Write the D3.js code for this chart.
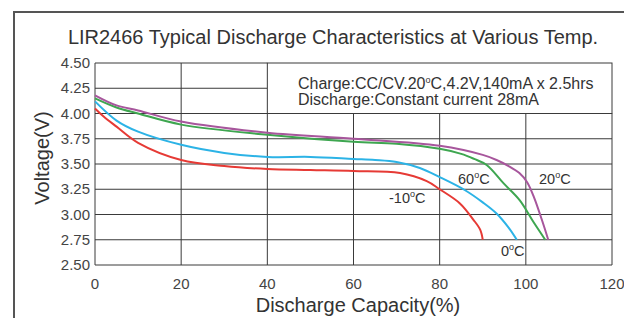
<!DOCTYPE html>
<html><head><meta charset="utf-8">
<script src="https://cdn.jsdelivr.net/npm/d3@7/dist/d3.min.js"></script>
<style>body{margin:0;background:#fff}svg{display:block;font-family:"Liberation Sans",Arial,sans-serif}</style>
</head><body><svg id="c" width="624" height="318"></svg>
<script>
const xTicks = [0, 20, 40, 60, 80, 100, 120];
const yTicks = [2.50, 2.75, 3.00, 3.25, 3.50, 3.75, 4.00, 4.25, 4.50];
const seriesNames = ["-10", "0", "60", "20"];
const redX = [0, 2, 5, 10, 20, 30, 40, 50, 60, 70.8, 77, 80, 84.7, 87.8, 89.4, 90];
const redY = [4.05, 3.97, 3.87, 3.71, 3.54, 3.48, 3.45, 3.44, 3.43, 3.41, 3.33, 3.25, 3.11, 2.95, 2.85, 2.75];
const blueX = [0, 5, 10, 20, 30, 40, 50, 60, 65, 70, 75.4, 80, 85.9, 90, 93.2, 96, 97.9];
const blueY = [4.12, 3.93, 3.82, 3.69, 3.61, 3.57, 3.57, 3.55, 3.54, 3.52, 3.46, 3.37, 3.24, 3.12, 3.01, 2.87, 2.75];
const greenX = [0, 5, 10, 20, 40, 60, 70, 80, 85, 88, 90.9, 94.8, 98.6, 101.7, 104.5];
const greenY = [4.15, 4.06, 4.00, 3.89, 3.79, 3.72, 3.70, 3.65, 3.60, 3.55, 3.49, 3.31, 3.14, 2.93, 2.75];
const purpleX = [0, 5, 10, 20, 40, 60, 80, 90, 93.2, 96, 98.5, 100.3, 101.9, 103.7, 105.2];
const purpleY = [4.18, 4.08, 4.03, 3.92, 3.81, 3.75, 3.68, 3.59, 3.54, 3.48, 3.41, 3.32, 3.17, 2.95, 2.75];
const colors = ["#e63a35", "#2cb3e6", "#3ea650", "#a7569c"];

const svg = d3.select("#c");
const X0 = 95, X1 = 612, Y0 = 265, Y1 = 63;
const x = d3.scaleLinear().domain([0, 120]).range([X0, X1]);
const y = d3.scaleLinear().domain([2.5, 4.5]).range([Y0, Y1]);

svg.append("rect").attr("x", 14).attr("y", 12).attr("width", 700).attr("height", 400)
  .attr("fill", "none").attr("stroke", "#555").attr("stroke-width", 2);

svg.append("text").attr("x", 333).attr("y", 44).attr("text-anchor", "middle")
  .attr("font-size", 20).attr("fill", "#333").text("LIR2466 Typical Discharge Characteristics at Various Temp.");

const gridC = "#3a3a3a";
yTicks.forEach(v => {
  const xe = (v > 4.0) ? x(40) : X1;
  svg.append("line").attr("x1", X0).attr("x2", xe).attr("y1", y(v)).attr("y2", y(v))
    .attr("stroke", gridC).attr("stroke-width", 1);
});
xTicks.forEach(v => {
  const ys = (v >= 40) ? y(4.0) : Y1;
  svg.append("line").attr("x1", x(v)).attr("x2", x(v)).attr("y1", Y0).attr("y2", ys)
    .attr("stroke", gridC).attr("stroke-width", 1);
});
svg.append("rect").attr("x", x(40)).attr("y", y(4.5)).attr("width", x(120) - x(40)).attr("height", y(4.0) - y(4.5))
  .attr("fill", "#fff").attr("stroke", gridC).attr("stroke-width", 1);
const ann = svg.append("text").attr("x", 298).attr("y", 89).attr("font-size", 16).attr("fill", "#333");
ann.append("tspan").text("Charge:CC/CV.20");
ann.append("tspan").attr("font-size", 9).attr("dy", -6).text("o");
ann.append("tspan").attr("dy", 6).text("C,4.2V,140mA x 2.5hrs");
svg.append("text").attr("x", 298).attr("y", 105).attr("font-size", 16).attr("fill", "#333")
  .text("Discharge:Constant current 28mA");

yTicks.forEach(v => {
  svg.append("text").attr("x", 90).attr("y", y(v) + 5).attr("text-anchor", "end")
    .attr("font-size", 15).attr("fill", "#444").text(v.toFixed(2));
});
xTicks.forEach(v => {
  svg.append("text").attr("x", x(v)).attr("y", 289).attr("text-anchor", "middle")
    .attr("font-size", 15).attr("fill", "#444").text(v);
});
svg.append("text").attr("x", 358).attr("y", 312).attr("text-anchor", "middle")
  .attr("font-size", 20).attr("fill", "#333").text("Discharge Capacity(%)");
svg.append("text").attr("transform", "translate(49,158) rotate(-90)").attr("text-anchor", "middle")
  .attr("font-size", 20).attr("fill", "#333").text("Voltage(V)");

const series = [[redX, redY], [blueX, blueY], [greenX, greenY], [purpleX, purpleY]];
const line = d3.line().x(d => x(d[0])).y(d => y(d[1])).curve(d3.curveCatmullRom.alpha(0.5));
series.forEach((s, i) => {
  const pts = s[0].map((v, j) => [v, s[1][j]]);
  svg.append("path").attr("d", line(pts)).attr("fill", "none")
    .attr("stroke", colors[i]).attr("stroke-width", 2);
});

const labelPos = [[389, 203], [501, 256], [458, 184], [539, 184]];
seriesNames.forEach((n, i) => {
  const t = svg.append("text").attr("x", labelPos[i][0]).attr("y", labelPos[i][1])
    .attr("font-size", 14.5).attr("fill", "#333");
  t.append("tspan").text(n);
  t.append("tspan").attr("font-size", 9).attr("dy", -6).text("o");
  t.append("tspan").attr("dy", 6).text("C");
});
</script></body></html>
